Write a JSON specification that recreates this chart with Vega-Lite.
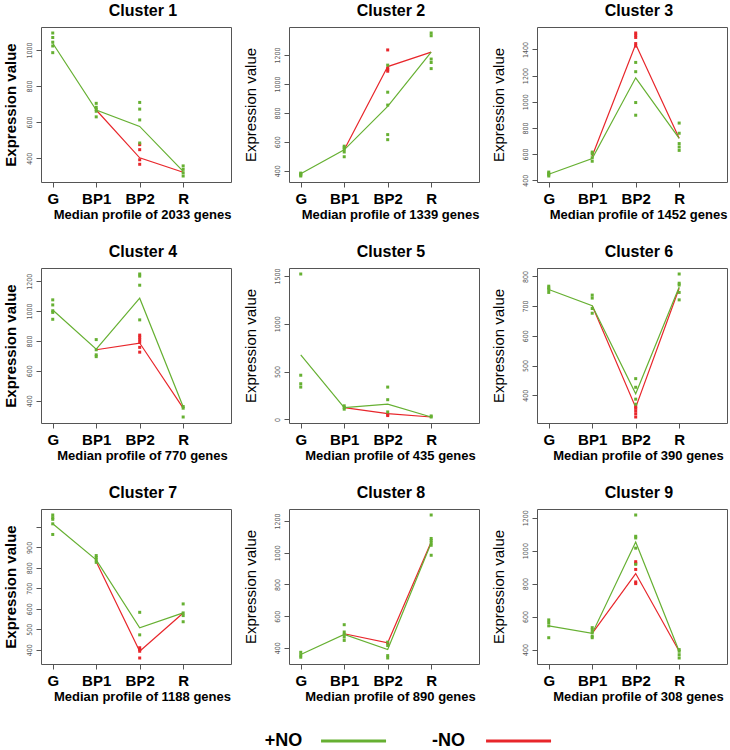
{
"$schema": "https://vega.github.io/schema/vega-lite/v6.json",
"padding": {"left": 2, "top": 2, "right": 0, "bottom": 0},
"background": "white",
"config": {
  "font": "Liberation Sans",
  "view": {"stroke": "#555", "strokeWidth": 1},
  "axis": {"grid": false, "domain": false, "tickColor": "#555", "tickSize": 5, "labelOverlap": false},
  "axisX": {"labelFontSize": 15, "labelFontWeight": "bold", "labelColor": "#000", "labelPadding": 4, "titleFontSize": 13, "titleFontWeight": "bold", "titleColor": "#000", "titlePadding": 2, "titleX": 101, "labelFlush": false},
  "axisY": {"format": "d", "labelFontSize": 7, "labelFont": "Liberation Sans Narrow, DejaVu Sans Condensed, Liberation Sans", "labelColor": "#555", "labelAngle": 270, "labelAlign": "center", "labelBaseline": "bottom", "labelPadding": 4, "titleFontSize": 15, "titleFontWeight": "normal", "titleColor": "#000", "titlePadding": 14.5},
  "title": {"fontSize": 16, "fontWeight": "bold", "anchor": "middle", "offset": 8, "color": "#000", "dx": 7}
},
"datasets": {
  "d": [
    {"c":1,"st":1,"grp":"+NO","k":"m","v":1037},{"c":1,"st":2,"grp":"+NO","k":"m","v":667},{"c":1,"st":3,"grp":"+NO","k":"m","v":576},{"c":1,"st":4,"grp":"+NO","k":"m","v":327},
    {"c":1,"st":2,"grp":"-NO","k":"m","v":667},{"c":1,"st":3,"grp":"-NO","k":"m","v":402},{"c":1,"st":4,"grp":"-NO","k":"m","v":322},
    {"c":1,"st":1,"grp":"+NO","k":"p","v":1094},{"c":1,"st":1,"grp":"+NO","k":"p","v":1069},{"c":1,"st":1,"grp":"+NO","k":"p","v":1043},{"c":1,"st":1,"grp":"+NO","k":"p","v":1022},{"c":1,"st":1,"grp":"+NO","k":"p","v":985},
    {"c":1,"st":2,"grp":"+NO","k":"p","v":704},{"c":1,"st":2,"grp":"+NO","k":"p","v":682},{"c":1,"st":2,"grp":"+NO","k":"p","v":670},{"c":1,"st":2,"grp":"+NO","k":"p","v":660},{"c":1,"st":2,"grp":"+NO","k":"p","v":629},
    {"c":1,"st":3,"grp":"-NO","k":"p","v":475},{"c":1,"st":3,"grp":"-NO","k":"p","v":447},{"c":1,"st":3,"grp":"-NO","k":"p","v":391},{"c":1,"st":3,"grp":"-NO","k":"p","v":366},
    {"c":1,"st":3,"grp":"+NO","k":"p","v":709},{"c":1,"st":3,"grp":"+NO","k":"p","v":672},{"c":1,"st":3,"grp":"+NO","k":"p","v":612},{"c":1,"st":3,"grp":"+NO","k":"p","v":484},
    {"c":1,"st":4,"grp":"+NO","k":"p","v":357},{"c":1,"st":4,"grp":"+NO","k":"p","v":338},{"c":1,"st":4,"grp":"+NO","k":"p","v":319},{"c":1,"st":4,"grp":"+NO","k":"p","v":301},

    {"c":2,"st":1,"grp":"+NO","k":"m","v":380},{"c":2,"st":2,"grp":"+NO","k":"m","v":545},{"c":2,"st":3,"grp":"+NO","k":"m","v":845},{"c":2,"st":4,"grp":"+NO","k":"m","v":1220},
    {"c":2,"st":2,"grp":"-NO","k":"m","v":545},{"c":2,"st":3,"grp":"-NO","k":"m","v":1120},{"c":2,"st":4,"grp":"-NO","k":"m","v":1220},
    {"c":2,"st":1,"grp":"+NO","k":"p","v":384},{"c":2,"st":1,"grp":"+NO","k":"p","v":378},{"c":2,"st":1,"grp":"+NO","k":"p","v":371},{"c":2,"st":1,"grp":"+NO","k":"p","v":364},
    {"c":2,"st":2,"grp":"+NO","k":"p","v":570},{"c":2,"st":2,"grp":"+NO","k":"p","v":560},{"c":2,"st":2,"grp":"+NO","k":"p","v":548},{"c":2,"st":2,"grp":"+NO","k":"p","v":530},{"c":2,"st":2,"grp":"+NO","k":"p","v":497},
    {"c":2,"st":3,"grp":"-NO","k":"p","v":1235},{"c":2,"st":3,"grp":"-NO","k":"p","v":1110},{"c":2,"st":3,"grp":"-NO","k":"p","v":1100},{"c":2,"st":3,"grp":"-NO","k":"p","v":1088},
    {"c":2,"st":3,"grp":"+NO","k":"p","v":1130},{"c":2,"st":3,"grp":"+NO","k":"p","v":943},{"c":2,"st":3,"grp":"+NO","k":"p","v":854},{"c":2,"st":3,"grp":"+NO","k":"p","v":650},{"c":2,"st":3,"grp":"+NO","k":"p","v":615},
    {"c":2,"st":4,"grp":"+NO","k":"p","v":1352},{"c":2,"st":4,"grp":"+NO","k":"p","v":1333},{"c":2,"st":4,"grp":"+NO","k":"p","v":1172},{"c":2,"st":4,"grp":"+NO","k":"p","v":1148},{"c":2,"st":4,"grp":"+NO","k":"p","v":1106},

    {"c":3,"st":1,"grp":"+NO","k":"m","v":445},{"c":3,"st":2,"grp":"+NO","k":"m","v":565},{"c":3,"st":3,"grp":"+NO","k":"m","v":1183},{"c":3,"st":4,"grp":"+NO","k":"m","v":720},
    {"c":3,"st":2,"grp":"-NO","k":"m","v":585},{"c":3,"st":3,"grp":"-NO","k":"m","v":1440},{"c":3,"st":4,"grp":"-NO","k":"m","v":720},
    {"c":3,"st":1,"grp":"+NO","k":"p","v":462},{"c":3,"st":1,"grp":"+NO","k":"p","v":452},{"c":3,"st":1,"grp":"+NO","k":"p","v":442},{"c":3,"st":1,"grp":"+NO","k":"p","v":432},
    {"c":3,"st":2,"grp":"+NO","k":"p","v":615},{"c":3,"st":2,"grp":"+NO","k":"p","v":600},{"c":3,"st":2,"grp":"+NO","k":"p","v":572},{"c":3,"st":2,"grp":"+NO","k":"p","v":545},
    {"c":3,"st":3,"grp":"-NO","k":"p","v":1526},{"c":3,"st":3,"grp":"-NO","k":"p","v":1510},{"c":3,"st":3,"grp":"-NO","k":"p","v":1492},{"c":3,"st":3,"grp":"-NO","k":"p","v":1445},{"c":3,"st":3,"grp":"-NO","k":"p","v":1426},
    {"c":3,"st":3,"grp":"+NO","k":"p","v":1301},{"c":3,"st":3,"grp":"+NO","k":"p","v":1230},{"c":3,"st":3,"grp":"+NO","k":"p","v":994},{"c":3,"st":3,"grp":"+NO","k":"p","v":897},
    {"c":3,"st":4,"grp":"+NO","k":"p","v":837},{"c":3,"st":4,"grp":"+NO","k":"p","v":759},{"c":3,"st":4,"grp":"+NO","k":"p","v":680},{"c":3,"st":4,"grp":"+NO","k":"p","v":654},{"c":3,"st":4,"grp":"+NO","k":"p","v":628},

    {"c":4,"st":1,"grp":"+NO","k":"m","v":1007},{"c":4,"st":2,"grp":"+NO","k":"m","v":745},{"c":4,"st":3,"grp":"+NO","k":"m","v":1086},{"c":4,"st":4,"grp":"+NO","k":"m","v":359},
    {"c":4,"st":2,"grp":"-NO","k":"m","v":741},{"c":4,"st":3,"grp":"-NO","k":"m","v":786},{"c":4,"st":4,"grp":"-NO","k":"m","v":350},
    {"c":4,"st":1,"grp":"+NO","k":"p","v":1075},{"c":4,"st":1,"grp":"+NO","k":"p","v":1041},{"c":4,"st":1,"grp":"+NO","k":"p","v":1002},{"c":4,"st":1,"grp":"+NO","k":"p","v":991},{"c":4,"st":1,"grp":"+NO","k":"p","v":945},
    {"c":4,"st":2,"grp":"+NO","k":"p","v":809},{"c":4,"st":2,"grp":"+NO","k":"p","v":741},{"c":4,"st":2,"grp":"+NO","k":"p","v":707},{"c":4,"st":2,"grp":"+NO","k":"p","v":695},
    {"c":4,"st":3,"grp":"-NO","k":"p","v":839},{"c":4,"st":3,"grp":"-NO","k":"p","v":825},{"c":4,"st":3,"grp":"-NO","k":"p","v":809},{"c":4,"st":3,"grp":"-NO","k":"p","v":791},{"c":4,"st":3,"grp":"-NO","k":"p","v":757},{"c":4,"st":3,"grp":"-NO","k":"p","v":725},
    {"c":4,"st":3,"grp":"+NO","k":"p","v":1248},{"c":4,"st":3,"grp":"+NO","k":"p","v":1234},{"c":4,"st":3,"grp":"+NO","k":"p","v":1173},{"c":4,"st":3,"grp":"+NO","k":"p","v":941},
    {"c":4,"st":4,"grp":"+NO","k":"p","v":361},{"c":4,"st":4,"grp":"+NO","k":"p","v":350},{"c":4,"st":4,"grp":"+NO","k":"p","v":291},

    {"c":5,"st":1,"grp":"+NO","k":"m","v":675},{"c":5,"st":2,"grp":"+NO","k":"m","v":124},{"c":5,"st":3,"grp":"+NO","k":"m","v":160},{"c":5,"st":4,"grp":"+NO","k":"m","v":25},
    {"c":5,"st":2,"grp":"-NO","k":"m","v":124},{"c":5,"st":3,"grp":"-NO","k":"m","v":60},{"c":5,"st":4,"grp":"-NO","k":"m","v":25},
    {"c":5,"st":1,"grp":"+NO","k":"p","v":1521},{"c":5,"st":1,"grp":"+NO","k":"p","v":462},{"c":5,"st":1,"grp":"+NO","k":"p","v":373},{"c":5,"st":1,"grp":"+NO","k":"p","v":338},
    {"c":5,"st":2,"grp":"+NO","k":"p","v":142},{"c":5,"st":2,"grp":"+NO","k":"p","v":124},{"c":5,"st":2,"grp":"+NO","k":"p","v":107},
    {"c":5,"st":3,"grp":"-NO","k":"p","v":53},{"c":5,"st":3,"grp":"-NO","k":"p","v":40},
    {"c":5,"st":3,"grp":"+NO","k":"p","v":338},{"c":5,"st":3,"grp":"+NO","k":"p","v":206},{"c":5,"st":3,"grp":"+NO","k":"p","v":78},
    {"c":5,"st":4,"grp":"+NO","k":"p","v":36},{"c":5,"st":4,"grp":"+NO","k":"p","v":25},

    {"c":6,"st":1,"grp":"+NO","k":"m","v":756},{"c":6,"st":2,"grp":"+NO","k":"m","v":701},{"c":6,"st":3,"grp":"+NO","k":"m","v":405},{"c":6,"st":4,"grp":"+NO","k":"m","v":764},
    {"c":6,"st":2,"grp":"-NO","k":"m","v":701},{"c":6,"st":3,"grp":"-NO","k":"m","v":359},{"c":6,"st":4,"grp":"-NO","k":"m","v":760},
    {"c":6,"st":1,"grp":"+NO","k":"p","v":767},{"c":6,"st":1,"grp":"+NO","k":"p","v":761},{"c":6,"st":1,"grp":"+NO","k":"p","v":756},{"c":6,"st":1,"grp":"+NO","k":"p","v":746},
    {"c":6,"st":2,"grp":"+NO","k":"p","v":737},{"c":6,"st":2,"grp":"+NO","k":"p","v":727},{"c":6,"st":2,"grp":"+NO","k":"p","v":692},{"c":6,"st":2,"grp":"+NO","k":"p","v":676},
    {"c":6,"st":3,"grp":"-NO","k":"p","v":361},{"c":6,"st":3,"grp":"-NO","k":"p","v":357},{"c":6,"st":3,"grp":"-NO","k":"p","v":348},{"c":6,"st":3,"grp":"-NO","k":"p","v":338},{"c":6,"st":3,"grp":"-NO","k":"p","v":327},
    {"c":6,"st":3,"grp":"+NO","k":"p","v":456},{"c":6,"st":3,"grp":"+NO","k":"p","v":427},{"c":6,"st":3,"grp":"+NO","k":"p","v":387},{"c":6,"st":3,"grp":"+NO","k":"p","v":370},
    {"c":6,"st":4,"grp":"+NO","k":"p","v":808},{"c":6,"st":4,"grp":"+NO","k":"p","v":777},{"c":6,"st":4,"grp":"+NO","k":"p","v":771},{"c":6,"st":4,"grp":"+NO","k":"p","v":746},{"c":6,"st":4,"grp":"+NO","k":"p","v":721},

    {"c":7,"st":1,"grp":"+NO","k":"m","v":1015},{"c":7,"st":2,"grp":"+NO","k":"m","v":839},{"c":7,"st":3,"grp":"+NO","k":"m","v":507},{"c":7,"st":4,"grp":"+NO","k":"m","v":580},
    {"c":7,"st":2,"grp":"-NO","k":"m","v":830},{"c":7,"st":3,"grp":"-NO","k":"m","v":393},{"c":7,"st":4,"grp":"-NO","k":"m","v":580},
    {"c":7,"st":1,"grp":"+NO","k":"p","v":1058},{"c":7,"st":1,"grp":"+NO","k":"p","v":1045},{"c":7,"st":1,"grp":"+NO","k":"p","v":1037},{"c":7,"st":1,"grp":"+NO","k":"p","v":1015},{"c":7,"st":1,"grp":"+NO","k":"p","v":963},
    {"c":7,"st":2,"grp":"+NO","k":"p","v":860},{"c":7,"st":2,"grp":"+NO","k":"p","v":850},{"c":7,"st":2,"grp":"+NO","k":"p","v":839},{"c":7,"st":2,"grp":"+NO","k":"p","v":827},
    {"c":7,"st":3,"grp":"-NO","k":"p","v":410},{"c":7,"st":3,"grp":"-NO","k":"p","v":402},{"c":7,"st":3,"grp":"-NO","k":"p","v":393},{"c":7,"st":3,"grp":"-NO","k":"p","v":360},
    {"c":7,"st":3,"grp":"+NO","k":"p","v":583},{"c":7,"st":3,"grp":"+NO","k":"p","v":473},
    {"c":7,"st":4,"grp":"+NO","k":"p","v":624},{"c":7,"st":4,"grp":"+NO","k":"p","v":580},{"c":7,"st":4,"grp":"+NO","k":"p","v":567},{"c":7,"st":4,"grp":"+NO","k":"p","v":537},

    {"c":8,"st":1,"grp":"+NO","k":"m","v":358},{"c":8,"st":2,"grp":"+NO","k":"m","v":485},{"c":8,"st":3,"grp":"+NO","k":"m","v":389},{"c":8,"st":4,"grp":"+NO","k":"m","v":1062},
    {"c":8,"st":2,"grp":"-NO","k":"m","v":489},{"c":8,"st":3,"grp":"-NO","k":"m","v":432},{"c":8,"st":4,"grp":"-NO","k":"m","v":1068},
    {"c":8,"st":1,"grp":"+NO","k":"p","v":372},{"c":8,"st":1,"grp":"+NO","k":"p","v":355},{"c":8,"st":1,"grp":"+NO","k":"p","v":341},
    {"c":8,"st":2,"grp":"+NO","k":"p","v":546},{"c":8,"st":2,"grp":"+NO","k":"p","v":500},{"c":8,"st":2,"grp":"+NO","k":"p","v":485},{"c":8,"st":2,"grp":"+NO","k":"p","v":468},{"c":8,"st":2,"grp":"+NO","k":"p","v":447},
    {"c":8,"st":3,"grp":"-NO","k":"p","v":430},
    {"c":8,"st":3,"grp":"+NO","k":"p","v":436},{"c":8,"st":3,"grp":"+NO","k":"p","v":415},{"c":8,"st":3,"grp":"+NO","k":"p","v":351},{"c":8,"st":3,"grp":"+NO","k":"p","v":336},
    {"c":8,"st":4,"grp":"+NO","k":"p","v":1238},{"c":8,"st":4,"grp":"+NO","k":"p","v":1090},{"c":8,"st":4,"grp":"+NO","k":"p","v":1077},{"c":8,"st":4,"grp":"+NO","k":"p","v":1062},{"c":8,"st":4,"grp":"+NO","k":"p","v":1047},{"c":8,"st":4,"grp":"+NO","k":"p","v":984},

    {"c":9,"st":1,"grp":"+NO","k":"m","v":544},{"c":9,"st":2,"grp":"+NO","k":"m","v":498},{"c":9,"st":3,"grp":"+NO","k":"m","v":1052},{"c":9,"st":4,"grp":"+NO","k":"m","v":390},
    {"c":9,"st":2,"grp":"-NO","k":"m","v":498},{"c":9,"st":3,"grp":"-NO","k":"m","v":861},{"c":9,"st":4,"grp":"-NO","k":"m","v":390},
    {"c":9,"st":1,"grp":"+NO","k":"p","v":580},{"c":9,"st":1,"grp":"+NO","k":"p","v":564},{"c":9,"st":1,"grp":"+NO","k":"p","v":544},{"c":9,"st":1,"grp":"+NO","k":"p","v":472},
    {"c":9,"st":2,"grp":"+NO","k":"p","v":533},{"c":9,"st":2,"grp":"+NO","k":"p","v":519},{"c":9,"st":2,"grp":"+NO","k":"p","v":503},{"c":9,"st":2,"grp":"+NO","k":"p","v":482},{"c":9,"st":2,"grp":"+NO","k":"p","v":472},
    {"c":9,"st":3,"grp":"-NO","k":"p","v":933},{"c":9,"st":3,"grp":"-NO","k":"p","v":923},{"c":9,"st":3,"grp":"-NO","k":"p","v":886},{"c":9,"st":3,"grp":"-NO","k":"p","v":810},{"c":9,"st":3,"grp":"-NO","k":"p","v":800},
    {"c":9,"st":3,"grp":"+NO","k":"p","v":1216},{"c":9,"st":3,"grp":"+NO","k":"p","v":1087},{"c":9,"st":3,"grp":"+NO","k":"p","v":1077},{"c":9,"st":3,"grp":"+NO","k":"p","v":1015},{"c":9,"st":3,"grp":"+NO","k":"p","v":917},
    {"c":9,"st":4,"grp":"+NO","k":"p","v":400},{"c":9,"st":4,"grp":"+NO","k":"p","v":390},{"c":9,"st":4,"grp":"+NO","k":"p","v":369},{"c":9,"st":4,"grp":"+NO","k":"p","v":349}
  ],
  "leg": [{"grp": "+NO"}, {"grp": "-NO"}]
},
"data": {"name": "d"},
"spacing": 28,
"vconcat": [
  {
    "columns": 3,
    "bounds": "flush",
    "spacing": {"row": 86, "column": 58},
    "concat": [
      {"title": "Cluster 1", "width": 190, "height": 155, "transform": [{"filter": "datum.c == 1"}],
       "encoding": {
         "x": {"field": "st", "type": "quantitative", "scale": {"domain": [0.73, 5.1], "nice": false, "zero": false}, "axis": {"values": [1,2,3,4], "labelExpr": "datum.value == 1 ? 'G' : datum.value == 2 ? 'BP1' : datum.value == 3 ? 'BP2' : 'R'", "title": "Median profile of 2033 genes"}},
         "y": {"field": "v", "type": "quantitative", "scale": {"zero": false, "nice": false, "padding": 6}, "axis": {"values": [400,600,800,1000], "title": "Expression value", "titleFontWeight": "bold", "titlePadding": 6.5}},
         "color": {"field": "grp", "type": "nominal", "scale": {"domain": ["+NO","-NO"], "range": ["#66B032","#E8262B"]}, "legend": null}},
       "layer": [
         {"transform": [{"filter": "datum.k == 'm' && datum.grp == '-NO'"}], "mark": {"type": "line", "strokeWidth": 1.2}},
         {"transform": [{"filter": "datum.k == 'm' && datum.grp == '+NO'"}], "mark": {"type": "line", "strokeWidth": 1.2}},
         {"transform": [{"filter": "datum.k == 'p'"}], "mark": {"type": "square", "size": 9, "opacity": 1}}
       ]},
      {"title": "Cluster 2", "width": 190, "height": 155, "transform": [{"filter": "datum.c == 2"}],
       "encoding": {
         "x": {"field": "st", "type": "quantitative", "scale": {"domain": [0.73, 5.1], "nice": false, "zero": false}, "axis": {"values": [1,2,3,4], "labelExpr": "datum.value == 1 ? 'G' : datum.value == 2 ? 'BP1' : datum.value == 3 ? 'BP2' : 'R'", "title": "Median profile of 1339 genes"}},
         "y": {"field": "v", "type": "quantitative", "scale": {"zero": false, "nice": false, "padding": 6}, "axis": {"values": [400,600,800,1000,1200], "title": "Expression value"}},
         "color": {"field": "grp", "type": "nominal", "scale": {"domain": ["+NO","-NO"], "range": ["#66B032","#E8262B"]}, "legend": null}},
       "layer": [
         {"transform": [{"filter": "datum.k == 'm' && datum.grp == '-NO'"}], "mark": {"type": "line", "strokeWidth": 1.2}},
         {"transform": [{"filter": "datum.k == 'm' && datum.grp == '+NO'"}], "mark": {"type": "line", "strokeWidth": 1.2}},
         {"transform": [{"filter": "datum.k == 'p'"}], "mark": {"type": "square", "size": 9, "opacity": 1}}
       ]},
      {"title": "Cluster 3", "width": 190, "height": 155, "transform": [{"filter": "datum.c == 3"}],
       "encoding": {
         "x": {"field": "st", "type": "quantitative", "scale": {"domain": [0.73, 5.1], "nice": false, "zero": false}, "axis": {"values": [1,2,3,4], "labelExpr": "datum.value == 1 ? 'G' : datum.value == 2 ? 'BP1' : datum.value == 3 ? 'BP2' : 'R'", "title": "Median profile of 1452 genes"}},
         "y": {"field": "v", "type": "quantitative", "scale": {"zero": false, "nice": false, "padding": 6}, "axis": {"values": [400,600,800,1000,1200,1400], "title": "Expression value"}},
         "color": {"field": "grp", "type": "nominal", "scale": {"domain": ["+NO","-NO"], "range": ["#66B032","#E8262B"]}, "legend": null}},
       "layer": [
         {"transform": [{"filter": "datum.k == 'm' && datum.grp == '-NO'"}], "mark": {"type": "line", "strokeWidth": 1.2}},
         {"transform": [{"filter": "datum.k == 'm' && datum.grp == '+NO'"}], "mark": {"type": "line", "strokeWidth": 1.2}},
         {"transform": [{"filter": "datum.k == 'p'"}], "mark": {"type": "square", "size": 9, "opacity": 1}}
       ]},
      {"title": "Cluster 4", "width": 190, "height": 155, "transform": [{"filter": "datum.c == 4"}],
       "encoding": {
         "x": {"field": "st", "type": "quantitative", "scale": {"domain": [0.73, 5.1], "nice": false, "zero": false}, "axis": {"values": [1,2,3,4], "labelExpr": "datum.value == 1 ? 'G' : datum.value == 2 ? 'BP1' : datum.value == 3 ? 'BP2' : 'R'", "title": "Median profile of 770 genes"}},
         "y": {"field": "v", "type": "quantitative", "scale": {"zero": false, "nice": false, "padding": 6}, "axis": {"values": [400,600,800,1000,1200], "title": "Expression value", "titleFontWeight": "bold", "titlePadding": 6.5}},
         "color": {"field": "grp", "type": "nominal", "scale": {"domain": ["+NO","-NO"], "range": ["#66B032","#E8262B"]}, "legend": null}},
       "layer": [
         {"transform": [{"filter": "datum.k == 'm' && datum.grp == '-NO'"}], "mark": {"type": "line", "strokeWidth": 1.2}},
         {"transform": [{"filter": "datum.k == 'm' && datum.grp == '+NO'"}], "mark": {"type": "line", "strokeWidth": 1.2}},
         {"transform": [{"filter": "datum.k == 'p'"}], "mark": {"type": "square", "size": 9, "opacity": 1}}
       ]},
      {"title": "Cluster 5", "width": 190, "height": 155, "transform": [{"filter": "datum.c == 5"}],
       "encoding": {
         "x": {"field": "st", "type": "quantitative", "scale": {"domain": [0.73, 5.1], "nice": false, "zero": false}, "axis": {"values": [1,2,3,4], "labelExpr": "datum.value == 1 ? 'G' : datum.value == 2 ? 'BP1' : datum.value == 3 ? 'BP2' : 'R'", "title": "Median profile of 435 genes"}},
         "y": {"field": "v", "type": "quantitative", "scale": {"zero": false, "nice": false, "padding": 6}, "axis": {"values": [0,500,1000,1500], "title": "Expression value"}},
         "color": {"field": "grp", "type": "nominal", "scale": {"domain": ["+NO","-NO"], "range": ["#66B032","#E8262B"]}, "legend": null}},
       "layer": [
         {"transform": [{"filter": "datum.k == 'm' && datum.grp == '-NO'"}], "mark": {"type": "line", "strokeWidth": 1.2}},
         {"transform": [{"filter": "datum.k == 'm' && datum.grp == '+NO'"}], "mark": {"type": "line", "strokeWidth": 1.2}},
         {"transform": [{"filter": "datum.k == 'p'"}], "mark": {"type": "square", "size": 9, "opacity": 1}}
       ]},
      {"title": "Cluster 6", "width": 190, "height": 155, "transform": [{"filter": "datum.c == 6"}],
       "encoding": {
         "x": {"field": "st", "type": "quantitative", "scale": {"domain": [0.73, 5.1], "nice": false, "zero": false}, "axis": {"values": [1,2,3,4], "labelExpr": "datum.value == 1 ? 'G' : datum.value == 2 ? 'BP1' : datum.value == 3 ? 'BP2' : 'R'", "title": "Median profile of 390 genes"}},
         "y": {"field": "v", "type": "quantitative", "scale": {"zero": false, "nice": false, "padding": 6}, "axis": {"values": [400,500,600,700,800], "title": "Expression value"}},
         "color": {"field": "grp", "type": "nominal", "scale": {"domain": ["+NO","-NO"], "range": ["#66B032","#E8262B"]}, "legend": null}},
       "layer": [
         {"transform": [{"filter": "datum.k == 'm' && datum.grp == '-NO'"}], "mark": {"type": "line", "strokeWidth": 1.2}},
         {"transform": [{"filter": "datum.k == 'm' && datum.grp == '+NO'"}], "mark": {"type": "line", "strokeWidth": 1.2}},
         {"transform": [{"filter": "datum.k == 'p'"}], "mark": {"type": "square", "size": 9, "opacity": 1}}
       ]},
      {"title": "Cluster 7", "width": 190, "height": 155, "transform": [{"filter": "datum.c == 7"}],
       "encoding": {
         "x": {"field": "st", "type": "quantitative", "scale": {"domain": [0.73, 5.1], "nice": false, "zero": false}, "axis": {"values": [1,2,3,4], "labelExpr": "datum.value == 1 ? 'G' : datum.value == 2 ? 'BP1' : datum.value == 3 ? 'BP2' : 'R'", "title": "Median profile of 1188 genes"}},
         "y": {"field": "v", "type": "quantitative", "scale": {"zero": false, "nice": false, "padding": 6}, "axis": {"values": [400,500,600,700,800,900,1000], "labelExpr": "datum.value == 1000 ? '' : datum.label", "title": "Expression value", "titleFontWeight": "bold", "titlePadding": 6.5}},
         "color": {"field": "grp", "type": "nominal", "scale": {"domain": ["+NO","-NO"], "range": ["#66B032","#E8262B"]}, "legend": null}},
       "layer": [
         {"transform": [{"filter": "datum.k == 'm' && datum.grp == '-NO'"}], "mark": {"type": "line", "strokeWidth": 1.2}},
         {"transform": [{"filter": "datum.k == 'm' && datum.grp == '+NO'"}], "mark": {"type": "line", "strokeWidth": 1.2}},
         {"transform": [{"filter": "datum.k == 'p'"}], "mark": {"type": "square", "size": 9, "opacity": 1}}
       ]},
      {"title": "Cluster 8", "width": 190, "height": 155, "transform": [{"filter": "datum.c == 8"}],
       "encoding": {
         "x": {"field": "st", "type": "quantitative", "scale": {"domain": [0.73, 5.1], "nice": false, "zero": false}, "axis": {"values": [1,2,3,4], "labelExpr": "datum.value == 1 ? 'G' : datum.value == 2 ? 'BP1' : datum.value == 3 ? 'BP2' : 'R'", "title": "Median profile of 890 genes"}},
         "y": {"field": "v", "type": "quantitative", "scale": {"zero": false, "nice": false, "padding": 6}, "axis": {"values": [400,600,800,1000,1200], "title": "Expression value"}},
         "color": {"field": "grp", "type": "nominal", "scale": {"domain": ["+NO","-NO"], "range": ["#66B032","#E8262B"]}, "legend": null}},
       "layer": [
         {"transform": [{"filter": "datum.k == 'm' && datum.grp == '-NO'"}], "mark": {"type": "line", "strokeWidth": 1.2}},
         {"transform": [{"filter": "datum.k == 'm' && datum.grp == '+NO'"}], "mark": {"type": "line", "strokeWidth": 1.2}},
         {"transform": [{"filter": "datum.k == 'p'"}], "mark": {"type": "square", "size": 9, "opacity": 1}}
       ]},
      {"title": "Cluster 9", "width": 190, "height": 155, "transform": [{"filter": "datum.c == 9"}],
       "encoding": {
         "x": {"field": "st", "type": "quantitative", "scale": {"domain": [0.73, 5.1], "nice": false, "zero": false}, "axis": {"values": [1,2,3,4], "labelExpr": "datum.value == 1 ? 'G' : datum.value == 2 ? 'BP1' : datum.value == 3 ? 'BP2' : 'R'", "title": "Median profile of 308 genes"}},
         "y": {"field": "v", "type": "quantitative", "scale": {"zero": false, "nice": false, "padding": 6}, "axis": {"values": [400,600,800,1000,1200], "title": "Expression value"}},
         "color": {"field": "grp", "type": "nominal", "scale": {"domain": ["+NO","-NO"], "range": ["#66B032","#E8262B"]}, "legend": null}},
       "layer": [
         {"transform": [{"filter": "datum.k == 'm' && datum.grp == '-NO'"}], "mark": {"type": "line", "strokeWidth": 1.2}},
         {"transform": [{"filter": "datum.k == 'm' && datum.grp == '+NO'"}], "mark": {"type": "line", "strokeWidth": 1.2}},
         {"transform": [{"filter": "datum.k == 'p'"}], "mark": {"type": "square", "size": 9, "opacity": 1}}
       ]}
    ]
  },
  {
    "width": 495, "height": 14,
    "view": {"stroke": null},
    "data": {"name": "leg"},
    "encoding": {
      "x": {"field": "grp", "type": "nominal", "scale": {"type": "point", "domain": ["+NO","-NO"], "padding": 1, "align": 0.735}, "axis": null}
    },
    "layer": [
      {"mark": {"type": "text", "fontSize": 18, "fontWeight": "bold", "color": "#000", "baseline": "middle", "align": "center"}, "encoding": {"text": {"field": "grp"}}},
      {"mark": {"type": "tick", "orient": "horizontal", "size": 65, "thickness": 3, "xOffset": 70, "opacity": 1}, "encoding": {"color": {"field": "grp", "type": "nominal", "scale": {"domain": ["+NO","-NO"], "range": ["#6CB33F","#E31A1C"]}, "legend": null}}}
    ]
  }
]
}
